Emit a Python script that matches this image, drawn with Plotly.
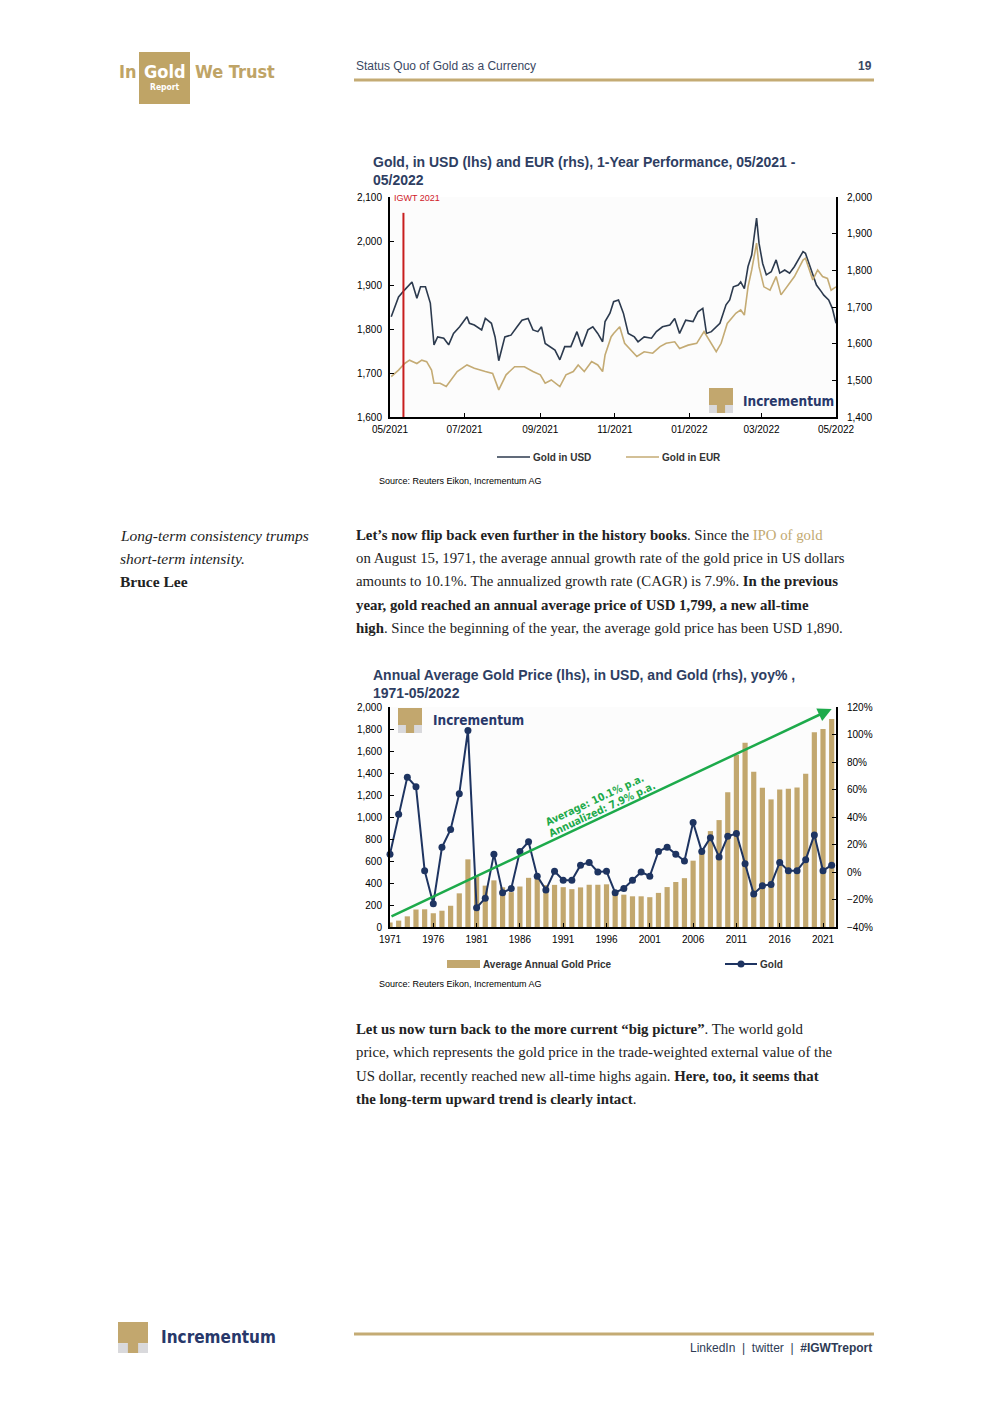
import plotly.graph_objects as go
import pandas as pd

# ---------------- DATA ----------------
# Chart 1: Gold 1-year performance (day offset from start date, price)
START_DATE = "2021-05-14"
END_DATE = "2022-05-14"
usd_day = [1, 7, 12, 18, 22, 25, 29, 33, 36, 39,
           44, 48, 52, 57, 63, 65, 69, 75, 78, 83,
           86, 89, 94, 99, 104, 108, 113, 117, 121, 124,
           127, 131, 135, 139, 143, 148, 153, 157, 162, 166,
           170, 174, 176, 180, 183, 187, 191, 195, 200, 203,
           208, 214, 218, 223, 229, 233, 237, 242, 248, 252,
           256, 259, 263, 270, 275, 278, 281, 285, 287, 290,
           293, 296, 300, 302, 305, 308, 312, 316, 319, 323,
           327, 331, 335, 338, 340, 345, 349, 353, 355, 359,
           362, 365]
usd_val = [1828, 1873, 1889, 1907, 1870, 1896, 1896, 1859, 1764, 1782,
           1779, 1764, 1790, 1805, 1828, 1813, 1809, 1798, 1824, 1813,
           1782, 1728, 1782, 1786, 1805, 1820, 1824, 1798, 1794, 1805,
           1767, 1760, 1752, 1730, 1760, 1760, 1794, 1760, 1798, 1805,
           1790, 1771, 1817, 1836, 1862, 1866, 1836, 1790, 1782, 1771,
           1782, 1779, 1794, 1805, 1809, 1824, 1790, 1820, 1817, 1839,
           1847, 1790, 1794, 1813, 1855, 1866, 1896, 1900, 1907, 1892,
           1942, 1968, 2052, 1995, 1949, 1923, 1930, 1957, 1927, 1934,
           1927, 1942, 1961, 1976, 1972, 1934, 1900, 1885, 1877, 1866,
           1847, 1813]
eur_day = [1, 7, 12, 16, 22, 26, 30, 34, 36, 41,
           46, 50, 55, 63, 69, 78, 84, 89, 95, 102,
           110, 117, 123, 127, 132, 139, 144, 150, 154, 159,
           165, 170, 174, 176, 181, 183, 188, 192, 197, 202,
           208, 215, 221, 226, 233, 237, 244, 251, 257, 263,
           267, 271, 276, 283, 287, 290, 293, 296, 300, 302,
           306, 311, 316, 320, 325, 331, 338, 340, 346, 350,
           354, 358, 361, 365]
eur_val = [1510, 1528, 1546, 1555, 1546, 1555, 1551, 1528, 1492, 1492,
           1483, 1501, 1524, 1542, 1533, 1524, 1519, 1474, 1515, 1537,
           1537, 1524, 1515, 1492, 1501, 1483, 1515, 1524, 1542, 1524,
           1551, 1542, 1524, 1569, 1619, 1628, 1646, 1601, 1583, 1565,
           1578, 1574, 1592, 1601, 1605, 1587, 1596, 1601, 1633, 1601,
           1578, 1601, 1655, 1683, 1692, 1678, 1755, 1801, 1874, 1810,
           1755, 1746, 1783, 1733, 1755, 1783, 1828, 1833, 1774, 1801,
           1783, 1778, 1746, 1755]
igwt_day = 11
chart1_ticks = ["2021-05-14", "2021-07-14", "2021-09-14", "2021-11-14",
                "2022-01-14", "2022-03-14", "2022-05-14"]

# Chart 2: annual average gold price (USD) and yoy %
years = list(range(1971, 2023))
avg_price = [41, 58, 97, 159, 161, 125, 148, 193, 306, 615,
             460, 376, 424, 361, 317, 368, 447, 437, 381, 383,
             362, 344, 360, 384, 384, 388, 331, 294, 279, 279,
             271, 310, 363, 409, 444, 603, 695, 872, 972, 1225,
             1565, 1675, 1411, 1266, 1160, 1251, 1257, 1268, 1393, 1770,
             1799, 1890]
yoy = [13, 42, 69, 62, 1, -23, 18, 31, 57, 103,
       -26, -19, 13, -15, -12, 15, 22, -3, -13, 0.5,
       -6, -6, 5, 7, 0, 0.5, -15, -12, -6, 0,
       -3, 15, 18, 13, 8, 36, 15, 25, 11, 26,
       28, 6, -16, -10, -9, 7, 1, 1, 9, 27,
       1, 5]
chart2_ticks = [1971, 1976, 1981, 1986, 1991, 1996, 2001, 2006, 2011, 2016, 2021]
trend_start = (1971, 91)
trend_end = (2022, 1982)

# ---------------- STYLE ----------------
W, H = 992, 1403
GOLD = "#C2A76E"
GOLD_LINE = "#C4AB74"
NAVY_TXT = "#2E3E62"
USD_COL = "#2C3A4E"
GOLD_SERIES = "#C4AB74"
NAVY_LINE = "#1E3461"
GREEN = "#1DAA4B"
SANS = "Liberation Sans, Arial, sans-serif"
NARROW = "Liberation Sans Narrow, DejaVu Sans Condensed, Arial Narrow, Liberation Sans, sans-serif"
SERIF = "Liberation Serif, DejaVu Serif, serif"


def px(x):
    return x / W


def py(y):
    return 1 - y / H


start = pd.Timestamp(START_DATE)
usd_dates = start + pd.to_timedelta(usd_day, unit="D")
eur_dates = start + pd.to_timedelta(eur_day, unit="D")
igwt_date = start + pd.Timedelta(days=igwt_day)

fig = go.Figure()

fig.add_trace(go.Scatter(x=usd_dates, y=usd_val, mode="lines", name="Gold in USD",
                         line=dict(color=USD_COL, width=1.6), xaxis="x", yaxis="y"))
fig.add_trace(go.Scatter(x=eur_dates, y=eur_val, mode="lines", name="Gold in EUR",
                         line=dict(color=GOLD_SERIES, width=1.6), xaxis="x", yaxis="y2"))

fig.add_trace(go.Bar(x=years, y=avg_price, name="Average Annual Gold Price",
                     marker=dict(color=GOLD, line=dict(width=0)), width=0.6,
                     xaxis="x2", yaxis="y3"))
fig.add_trace(go.Scatter(x=years, y=yoy, mode="lines+markers", name="Gold",
                         line=dict(color=NAVY_LINE, width=2),
                         marker=dict(color=NAVY_LINE, size=7),
                         cliponaxis=False, xaxis="x2", yaxis="y4"))

XD = [px(390), px(836)]
Y1D = [py(417), py(197)]
Y2D = [py(927), py(707)]

tickfont = dict(family=SANS, size=10, color="black")
axis_common = dict(showline=True, linecolor="black", linewidth=2, showgrid=False,
                   zeroline=False, ticks="inside", ticklen=4, tickwidth=1,
                   tickcolor="black", tickfont=tickfont, fixedrange=True,
                   automargin=False)
lstand = dict(ticklabelstandoff=4)
rstand = dict(ticklabelstandoff=7)
xstand = dict(ticklabelstandoff=2)

fig.update_layout(
    template="none",
    width=W, height=H, margin=dict(l=0, r=0, t=0, b=0, pad=0, autoexpand=False),
    paper_bgcolor="white", plot_bgcolor="#FCFCFC", showlegend=False,
    xaxis=dict(domain=XD, anchor="y", type="date", range=[START_DATE, END_DATE],
               tickvals=chart1_ticks, tickformat="%m/%Y", **axis_common, **xstand),
    yaxis=dict(domain=Y1D, anchor="x", range=[1600, 2100], dtick=100,
               tickformat=",d", **axis_common, **lstand),
    yaxis2=dict(overlaying="y", anchor="x", side="right", range=[1400, 2000],
                dtick=100, tickformat=",d", **axis_common, **rstand),
    xaxis2=dict(domain=XD, anchor="y3", range=[1971, 2022.5], tickvals=chart2_ticks,
                **axis_common, **xstand),
    yaxis3=dict(domain=Y2D, anchor="x2", range=[0, 2000], dtick=200,
                tickformat=",d", **axis_common, **lstand),
    yaxis4=dict(overlaying="y3", anchor="x2", side="right", range=[-40, 120],
                dtick=20, ticksuffix="%", **axis_common, **rstand),
)

shapes = []
annots = []


def text(x, y, s, size, color="black", family=SANS, xanchor="left", yanchor="middle", **kw):
    annots.append(dict(x=px(x), y=py(y), xref="paper", yref="paper", text=s,
                       showarrow=False, xanchor=xanchor, yanchor=yanchor,
                       font=dict(family=family, size=size, color=color), **kw))


def rect(x0, y0, x1, y1, color, line_w=0):
    shapes.append(dict(type="rect", xref="paper", yref="paper", x0=px(x0), x1=px(x1),
                       y0=py(y1), y1=py(y0), fillcolor=color, line=dict(width=line_w),
                       layer="above"))


def hline(x0, x1, y, color, width):
    shapes.append(dict(type="line", xref="paper", yref="paper", x0=px(x0), x1=px(x1),
                       y0=py(y), y1=py(y), line=dict(color=color, width=width)))


def logo_icon(x0, y0, w, h):
    rect(x0, y0, x0 + w, y0 + h * 0.68, GOLD)
    rect(x0, y0 + h * 0.68, x0 + w, y0 + h, "#D9D9DC")
    rect(x0 + w * 0.33, y0 + h * 0.6, x0 + w * 0.67, y0 + h, GOLD)


# ---- Header ----
rect(139, 52, 190, 104, "#BFA466")
text(117, 72, "<b>In</b>", 18, "#BFA466", NARROW)
text(164.5, 72, "<b>Gold</b>", 18, "white", NARROW, xanchor="center")
text(193, 72, "<b>We Trust</b>", 18, "#BFA466", NARROW)
text(164.5, 87, "<b>Report</b>", 8.5, "white", NARROW, xanchor="center")
text(354, 66, "Status Quo of Gold as a Currency", 12, "#3A4863", SANS)
text(874, 66, "<b>19</b>", 12, "#3A4863", SANS, xanchor="right")
hline(354, 874, 80, GOLD_LINE, 3)

# ---- Chart 1 ----
text(371, 162, "<b>Gold, in USD (lhs) and EUR (rhs), 1-Year Performance, 05/2021 -</b>", 14, NAVY_TXT)
text(371, 180, "<b>05/2022</b>", 14, NAVY_TXT)
shapes.append(dict(type="line", xref="x", yref="y", x0=igwt_date, x1=igwt_date,
                   y0=1600, y1=2064, line=dict(color="#C81E1E", width=2)))
text(392, 198, "IGWT 2021", 9, "#D0202A", SANS)
logo_icon(709, 388, 24, 25)
text(741, 401, "<b>Incrementum</b>", 13.5, "#28386A", NARROW)
hline(497, 530, 457, USD_COL, 1.6)
text(531, 457, "<b>Gold in USD</b>", 10, "#333", SANS)
hline(626, 659, 457, GOLD_SERIES, 1.6)
text(660, 457, "<b>Gold in EUR</b>", 10, "#333", SANS)
text(377, 481, "Source: Reuters Eikon, Incrementum AG", 9, "black", SANS)

# ---- Text block 1 ----
qc = "#222222"
text(118, 535, "<i>Long-term consistency trumps</i>", 15.5, qc, SERIF)
text(118, 558, "<i>short-term intensity.</i>", 15.5, qc, SERIF)
text(118, 581, "<b>Bruce Lee</b>", 15.5, qc, SERIF)
body1 = [
    "<b>Let’s now flip back even further in the history books</b>. Since the "
    "<span style='color:#C2A970'>IPO of gold</span>",
    "on August 15, 1971, the average annual growth rate of the gold price in US dollars",
    "amounts to 10.1%. The annualized growth rate (CAGR) is 7.9%. <b>In the previous</b>",
    "<b>year, gold reached an annual average price of USD 1,799, a new all-time</b>",
    "<b>high</b>. Since the beginning of the year, the average gold price has been USD 1,890.",
]
for i, line in enumerate(body1):
    text(354, 535 + i * 23.3, line, 14.8, qc, SERIF)

# ---- Chart 2 ----
text(371, 675, "<b>Annual Average Gold Price (lhs), in USD, and Gold (rhs), yoy% ,</b>", 14, NAVY_TXT)
text(371, 693, "<b>1971-05/2022</b>", 14, NAVY_TXT)
logo_icon(398, 708, 24, 25)
text(431, 720, "<b>Incrementum</b>", 13.5, "#28386A", NARROW)
annots.append(dict(x=trend_end[0], y=trend_end[1], ax=trend_start[0], ay=trend_start[1],
                   xref="x2", yref="y3", axref="x2", ayref="y3", text="",
                   showarrow=True, arrowhead=2, arrowsize=1.1, arrowwidth=2.5,
                   arrowcolor=GREEN))
text(594, 800, "<b>Average: 10.1% p.a.</b>", 10.5, GREEN, NARROW, xanchor="center", textangle=-25)
text(602, 809, "<b>Annualized: 7.9% p.a.</b>", 10.5, GREEN, NARROW, xanchor="center", textangle=-25)
rect(447, 960, 480, 968, GOLD)
text(481, 964, "<b>Average Annual Gold Price</b>", 10, "#333", SANS)
hline(725, 757, 964, NAVY_LINE, 2)
shapes.append(dict(type="circle", xref="paper", yref="paper", x0=px(737.5), x1=px(744.5),
                   y0=py(967.5), y1=py(960.5), fillcolor=NAVY_LINE, line=dict(width=0)))
text(758, 964, "<b>Gold</b>", 10, "#333", SANS)
text(377, 984, "Source: Reuters Eikon, Incrementum AG", 9, "black", SANS)

# ---- Text block 2 ----
body2 = [
    "<b>Let us now turn back to the more current “big picture”</b>. The world gold",
    "price, which represents the gold price in the trade-weighted external value of the",
    "US dollar, recently reached new all-time highs again. <b>Here, too, it seems that</b>",
    "<b>the long-term upward trend is clearly intact</b>.",
]
for i, line in enumerate(body2):
    text(354, 1029 + i * 23.3, line, 14.8, qc, SERIF)

# ---- Footer ----
logo_icon(118, 1322, 30, 31)
text(159, 1337, "<b>Incrementum</b>", 17, "#28386A", NARROW)
hline(354, 874, 1334, GOLD_LINE, 3)
text(874, 1348, "LinkedIn  |  twitter  |  <b>#IGWTreport</b>", 12, "#2E3B55", SANS, xanchor="right")

fig.update_layout(shapes=shapes, annotations=annots)

fig.write_html("out.html", include_plotlyjs=True,
               config={"displayModeBar": False},
               post_script="document.body.style.margin='0';document.body.style.overflow='hidden';")
